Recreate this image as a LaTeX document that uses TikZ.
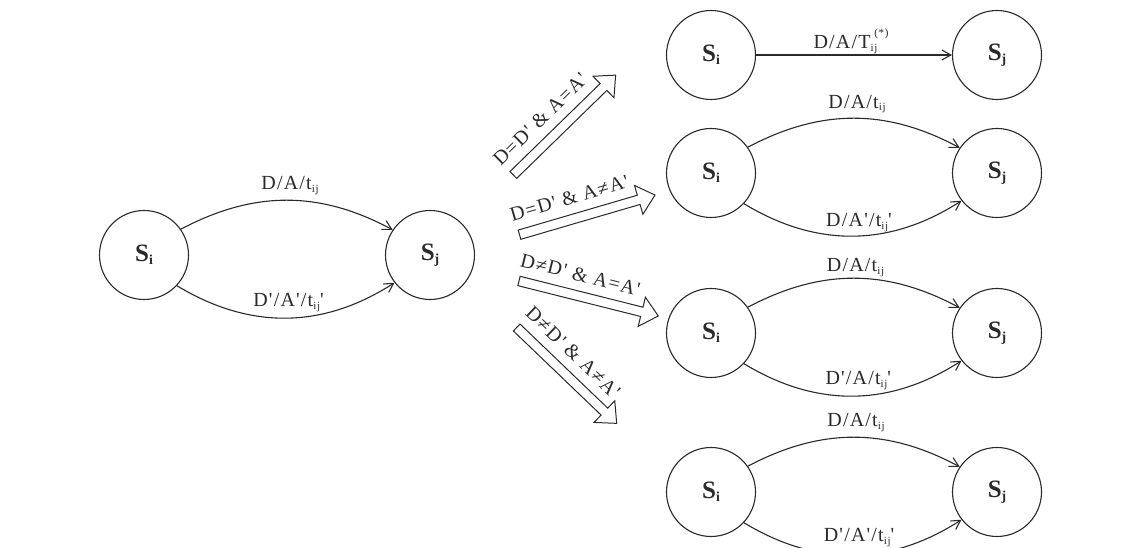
\documentclass[tikz,border=0pt]{standalone}
\usepackage{fontspec}
\setmainfont{Liberation Serif}[Ligatures=TeXOff]
\newfontfamily\lblfont{Liberation Serif}[Ligatures=TeXOff, LetterSpace=6]
\usetikzlibrary{arrows.meta}
\definecolor{ink}{HTML}{2A2A2A}
\newcommand\lsub[1]{\raisebox{-0.12em}{\scalebox{0.55}{#1}}}
\newcommand\lsup[1]{\raisebox{0.62em}{\scalebox{0.55}{#1}}}
\tikzset{
  state/.style={circle, draw=ink, line width=1.1pt, minimum size=89pt, inner sep=0pt,
                text=ink, font=\fontsize{25}{25}\selectfont\bfseries},
  edge/.style={draw=ink, line width=1.1pt, -{Straight Barb[length=9pt,width=10pt]}},
  lbl/.style={font=\fontsize{20}{20}\lblfont, text=ink, inner sep=0pt, anchor=base},
  barrow/.style={draw=ink, line width=1pt, line join=miter},
  arrtxt/.style={font=\fontsize{20}{20}\lblfont, text=ink, inner sep=0pt}
}
\newcommand\blockarrow[5]{%
  \begin{scope}[shift={#2}, rotate=#3]
    \draw[barrow] (0,-4.8) -- ({#4-17},-4.8) -- ({#4-17},-15) -- (#4,0)
                  -- ({#4-17},15) -- ({#4-17},4.8) -- (0,4.8) -- cycle;
    \node[arrtxt, rotate=#3] (#1) at (58,21) {#5};
  \end{scope}}
\begin{document}
\begin{tikzpicture}[x=1pt,y=1pt]
  \useasboundingbox (0,0) rectangle (1143,548);
  \fill[white] (0,0) rectangle (1143,548);
  \clip (0,0) rectangle (1143,548);

  % left pair
  \node[state] (L1) at (144,293) {S\lsub{i}};
  \node[state] (L2) at (430,293) {S\lsub{j}};
  \draw[edge] (L1.35) to[bend left=28] (L2.146);
  \draw[edge] (L1.-43) to[bend right=32] (L2.-142);
  \node[lbl] (l1a) at (290,358) {D/A/t\lsub{ij}};
  \node[lbl] (l1b) at (288.5,241.3) {D'/A'/t\lsub{ij}'};

  % block arrows
  \blockarrow{c1}{(513.3,373)}{44.3}{143}{D=D' \& A=A'}
  \blockarrow{c2}{(519.5,313.3)}{16.3}{141.2}{D=D' \& A≠A'}
  \blockarrow{c3}{(519,267)}{-14.1}{143.6}{D≠D' \& A=A'}
  \blockarrow{c4}{(516.7,220.5)}{-43.8}{138.5}{D≠D' \& A≠A'}

  % row 1
  \node[state] (A1) at (711,493) {S\lsub{i}};
  \node[state] (B1) at (997,493) {S\lsub{j}};
  \draw[edge] (A1.east) -- (B1.west);
  \node[lbl] (r1a) at (851,499) {D/A/T\lsub{ij}\kern-0.15em\lsup{(*)}};

  % row 2
  \node[state] (A2) at (711,375) {S\lsub{i}};
  \node[state] (B2) at (997,375) {S\lsub{j}};
  \draw[edge] (A2.35) to[bend left=28] (B2.146);
  \draw[edge] (A2.-43) to[bend right=32] (B2.-142);
  \node[lbl] (r2a) at (857,439.7) {D/A/t\lsub{ij}};
  \node[lbl] (r2b) at (859,321.3) {D/A'/t\lsub{ij}'};

  % row 3
  \node[state] (A3) at (711,215) {S\lsub{i}};
  \node[state] (B3) at (997,215) {S\lsub{j}};
  \draw[edge] (A3.35) to[bend left=28] (B3.146);
  \draw[edge] (A3.-43) to[bend right=32] (B3.-142);
  \node[lbl] (r3a) at (855.5,276.3) {D/A/t\lsub{ij}};
  \node[lbl] (r3b) at (858.3,163) {D'/A/t\lsub{ij}'};

  % row 4
  \node[state] (A4) at (711,56) {S\lsub{i}};
  \node[state] (B4) at (997,56) {S\lsub{j}};
  \draw[edge] (A4.35) to[bend left=28] (B4.146);
  \draw[edge] (A4.-43) to[bend right=32] (B4.-142);
  \node[lbl] (r4a) at (856,121.3) {D/A/t\lsub{ij}};
  \node[lbl] (r4b) at (859,6.3) {D'/A'/t\lsub{ij}'};
\end{tikzpicture}
\end{document}
